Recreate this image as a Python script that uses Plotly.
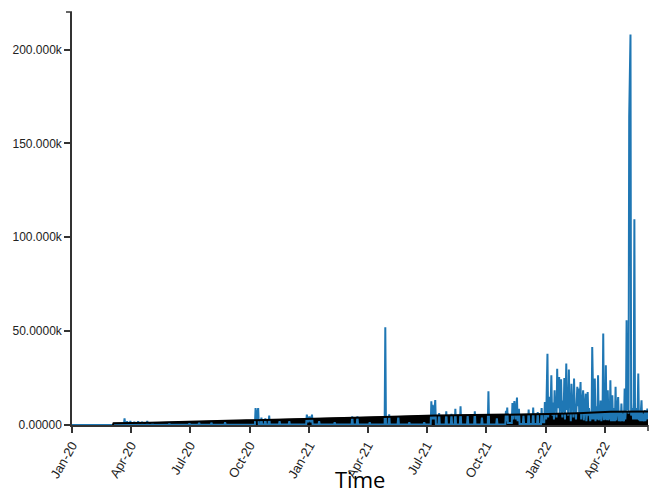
import pandas as pd
import plotly.graph_objects as go

START = pd.Timestamp("2020-01-01")

# Blue series: (days since 2020-01-01, value)
blue_points = [
    (0, 0), (62, 0), (63, 150),
    (80, 150), (81, 3500), (82, 150), (84, 150), (85, 2000), (86, 150),
    (89, 150), (90, 2200), (91, 150), (95, 150), (96, 1800), (97, 150),
    (101, 150), (102, 2000), (103, 150), (107, 150), (108, 1700), (109, 150),
    (115, 150), (116, 2200), (117, 150), (123, 150), (124, 1500), (125, 150),
    (149, 150), (150, 1000), (151, 150), (180, 150), (181, 1000), (182, 150),
    (195, 150), (196, 1500), (197, 150), (214, 150), (215, 1300), (216, 150),
    (235, 150), (236, 1500), (237, 150),
    (282, 200), (283, 9000), (285, 3000), (287, 9000), (288, 200),
    (291, 200), (292, 4000), (293, 200), (297, 200), (298, 3500), (299, 200),
    (303, 200), (304, 5000), (305, 200), (319, 200), (320, 2000), (321, 200),
    (334, 200), (335, 2000), (336, 200),
    (361, 200), (362, 5500), (364, 1500), (366, 4500), (368, 1500), (370, 5500), (371, 200),
    (380, 200), (381, 2000), (382, 200), (404, 200), (405, 1500), (406, 200),
    (431, 200), (432, 4600), (433, 200), (439, 200), (440, 4600), (441, 200),
    (458, 200), (459, 1500), (460, 200),
    (482, 200), (483, 52000), (484, 200),
    (488, 200), (489, 5700), (490, 200), (502, 200), (503, 4600), (504, 200),
    (519, 200), (520, 1500), (521, 200), (542, 200), (543, 1500), (544, 200),
    (553, 200), (554, 12600), (555, 3000), (556, 10800), (558, 3000), (560, 13300), (561, 200),
    (565, 200), (566, 6400), (567, 200), (576, 200), (577, 7300), (578, 200),
    (584, 200), (585, 6000), (586, 200), (590, 200), (591, 8700), (592, 200),
    (598, 200), (599, 10000), (600, 200), (609, 200), (610, 5000), (611, 200),
    (620, 200), (621, 7300), (622, 200), (631, 200), (632, 4000), (633, 200),
    (641, 200), (642, 18000), (643, 200), (654, 200), (655, 3500), (656, 200),
    (668, 200), (669, 7500), (670, 2000), (671, 9300), (672, 1000),
    (678, 1000), (679, 11700), (680, 3000), (682, 12800), (684, 3000), (686, 14600),
    (687, 2000), (689, 8700), (690, 500),
    (695, 500), (696, 5000), (697, 500), (703, 500), (704, 8200), (705, 500),
    (710, 500), (711, 9300), (712, 500), (717, 500), (718, 6900), (719, 500),
    (723, 500), (724, 9000), (725, 1500), (728, 1500), (729, 12300), (731, 3000),
    (733, 38000), (734, 4000), (735, 9000), (736, 15000), (737, 6000), (738, 11000),
    (739, 26500), (740, 7000), (741, 5000), (742, 12000), (743, 3000), (744, 18500),
    (745, 8000), (746, 10000), (747, 4000), (748, 30000), (749, 9000), (750, 14000),
    (751, 25600), (752, 6000), (753, 12000), (754, 24400), (755, 9000), (756, 4000),
    (757, 13000), (758, 7000), (759, 25000), (760, 3000), (761, 14000), (762, 32700),
    (763, 8000), (764, 16000), (765, 5000), (766, 29500), (767, 10000), (768, 12000),
    (769, 2000), (770, 22000), (771, 9000), (772, 11000), (773, 4000), (774, 24700),
    (775, 8000), (776, 9000), (777, 3000), (778, 15000), (779, 20300), (780, 10000),
    (781, 19400), (782, 6000), (783, 12000), (784, 22900), (785, 3000), (786, 8000),
    (787, 11000), (788, 18500), (789, 2500), (790, 7000), (791, 9000), (792, 16700),
    (793, 2000), (794, 6000), (795, 17600), (796, 5000), (797, 9000), (798, 5000),
    (799, 2000), (800, 7000), (801, 3000), (802, 41600), (803, 8000), (804, 3000),
    (805, 12000), (806, 24700), (807, 2000), (808, 6000), (809, 10000), (810, 3000),
    (811, 26500), (812, 2500), (813, 7000), (814, 3000), (815, 13000), (816, 2000),
    (817, 5000), (818, 9000), (819, 48700), (820, 2500), (821, 10000), (822, 3000),
    (823, 31800), (824, 2500), (825, 8000), (826, 18500), (827, 2500), (828, 7000),
    (829, 3000), (830, 23800), (831, 2000), (832, 6000), (833, 15800), (834, 2000),
    (835, 9000), (836, 5000), (837, 2000), (838, 20300), (839, 2500), (840, 6000),
    (841, 10000), (842, 14900), (843, 2000), (844, 7000), (845, 4000), (846, 2000),
    (847, 11400), (848, 2000), (849, 6000), (850, 4000), (851, 2000), (852, 19400),
    (853, 3000), (854, 9000), (855, 55800), (856, 8000), (857, 31000), (858, 6000),
    (859, 164000), (861, 208000), (862, 5000), (863, 7000), (864, 9000), (865, 3000),
    (866, 12000), (867, 109600), (868, 3000), (869, 6000), (870, 9000), (871, 3000),
    (872, 8000), (873, 27400), (874, 2500), (875, 5000), (876, 2000), (877, 9000),
    (878, 13200), (879, 2000), (880, 6000), (881, 4000), (882, 2000), (883, 8000),
    (884, 2000), (885, 7000), (886, 3000), (887, 8700), (888, 3000),
]
blue_days = [p[0] for p in blue_points]
blue_vals = [p[1] for p in blue_points]

# Black band upper envelope
black_days = [63, 64, 120, 200, 280, 350, 420, 480, 560, 640, 700, 733, 780, 830, 888]
black_vals = [0, 900, 1200, 1800, 2500, 3200, 3800, 4300, 5000, 5300, 5500, 5800, 6300, 7000, 7200]

y_ticks = [0, 50000, 100000, 150000, 200000]

blue_x = [START + pd.Timedelta(days=d) for d in blue_days]
black_x = [START + pd.Timedelta(days=d) for d in black_days]

fig = go.Figure()
fig.add_trace(go.Scatter(x=black_x, y=black_vals, mode="lines", fill="tozeroy",
                         fillcolor="black", line=dict(color="black", width=1),
                         showlegend=False, hoverinfo="skip"))
fig.add_trace(go.Scatter(x=blue_x, y=blue_vals, mode="lines",
                         line=dict(color="#1f77b4", width=2),
                         showlegend=False))
fig.add_trace(go.Scatter(x=black_x, y=black_vals, mode="lines",
                         line=dict(color="black", width=2),
                         showlegend=False, hoverinfo="skip"))

axis_col = "#333"
fig.update_layout(
    width=661, height=497,
    margin=dict(l=72, r=13, t=12, b=72),
    paper_bgcolor="white", plot_bgcolor="white",
    font=dict(family="Liberation Sans, Arial, sans-serif", size=12, color="#222"),
    xaxis=dict(
        type="date",
        range=[START, START + pd.Timedelta(days=888)],
        tickformat="%b-%y", dtick="M3", tick0="2020-01-01",
        tickangle=-60, showgrid=False, zeroline=False,
        tickfont=dict(size=13),
        showline=True, linecolor=axis_col, linewidth=1.5,
        ticks="outside", ticklen=6, tickcolor=axis_col, tickwidth=1.5,
    ),
    yaxis=dict(
        range=[0, 220000], tickvals=y_ticks, tickformat=".6s",
        showgrid=False, zeroline=False,
        showline=True, linecolor=axis_col, linewidth=1.5,
        ticks="outside", ticklen=6, tickcolor=axis_col, tickwidth=1.5,
    ),
    annotations=[dict(text="Time", xref="paper", yref="paper", x=0.5, y=-0.131,
                      xanchor="center", yanchor="middle", showarrow=False,
                      font=dict(family="Open Sans, sans-serif", size=22, color="black"))],
    shapes=[
        dict(type="line", xref="paper", yref="paper", x0=-6/576, x1=0, y0=1, y1=1,
             line=dict(color=axis_col, width=1.5)),
        dict(type="line", xref="paper", yref="paper", x0=1, x1=1, y0=0, y1=-6/413,
             line=dict(color=axis_col, width=1.5)),
    ],
)

fig.write_html("out.html")
